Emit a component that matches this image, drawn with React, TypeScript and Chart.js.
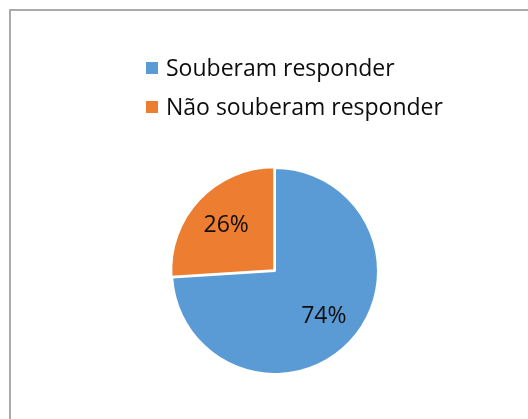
import React, { useEffect, useRef } from 'react';
import { Chart, registerables } from 'chart.js';

Chart.register(...registerables);

const categories = ['Souberam responder', 'Não souberam responder'];
const values = [74, 26];
const colors = ['#5b9bd5', '#ed7d31'];
const sliceOffsets = [0, 4];

const FONT = '"Open Sans", "Noto Sans", sans-serif';

const legendPlugin = {
  id: 'customLegend',
  afterDraw(chart: any) {
    const ctx = chart.ctx;
    const labels = chart.data.labels as string[];
    const ds = chart.data.datasets[0] as any;
    ctx.save();
    ctx.font = `23px ${FONT}`;
    ctx.textBaseline = 'alphabetic';
    ctx.textAlign = 'left';
    labels.forEach((l, i) => {
      const baseline = 76 + i * 39;
      ctx.fillStyle = ds.backgroundColor[i];
      ctx.fillRect(146, baseline - 14, 12, 12);
      ctx.fillStyle = '#0d0d0d';
      ctx.fillText(l, 166, baseline);
    });
    ctx.restore();
  },
};

const pctPlugin = {
  id: 'pctLabels',
  afterDatasetsDraw(chart: any) {
    const ctx = chart.ctx;
    const meta = chart.getDatasetMeta(0);
    const data = chart.data.datasets[0].data as number[];
    const total = data.reduce((a, b) => a + b, 0);
    ctx.save();
    ctx.font = `23px ${FONT}`;
    ctx.fillStyle = '#0d0d0d';
    ctx.textAlign = 'center';
    ctx.textBaseline = 'middle';
    meta.data.forEach((arc: any, i: number) => {
      const p = arc.getProps(['x', 'y', 'startAngle', 'endAngle', 'outerRadius'], true);
      const mid = (p.startAngle + p.endAngle) / 2;
      const r = p.outerRadius * 0.65;
      const x = p.x + Math.cos(mid) * r;
      const y = p.y + Math.sin(mid) * r;
      ctx.fillText(Math.round((data[i] / total) * 100) + '%', x, y);
    });
    ctx.restore();
  },
};

export default function App() {
  const ref = useRef<HTMLCanvasElement>(null);
  useEffect(() => {
    if (!ref.current) return;
    const chart = new Chart(ref.current, {
      type: 'pie',
      data: {
        labels: categories,
        datasets: [
          {
            data: values,
            backgroundColor: colors,
            borderColor: '#ffffff',
            borderWidth: 2,
            offset: sliceOffsets,
            radius: 103,
          } as any,
        ],
      },
      options: {
        responsive: false,
        animation: false,
        layout: { padding: { left: 22, right: 0, top: 123, bottom: 0 } },
        plugins: {
          legend: { display: false },
          tooltip: { enabled: false },
        },
      },
      plugins: [legendPlugin, pctPlugin],
    });
    return () => chart.destroy();
  }, []);

  return (
    <div style={{ position: 'fixed', left: 0, top: 0, width: 528, height: 419, overflow: 'hidden', background: '#fff' }}>
      <div
        style={{
          position: 'absolute',
          left: 9,
          top: 9,
          width: 600,
          height: 500,
          borderTop: '2px solid #aaaaaa',
          borderLeft: '2px solid #aaaaaa',
        }}
      />
      <canvas ref={ref} width={528} height={419} style={{ position: 'absolute', left: 0, top: 0 }} />
    </div>
  );
}
